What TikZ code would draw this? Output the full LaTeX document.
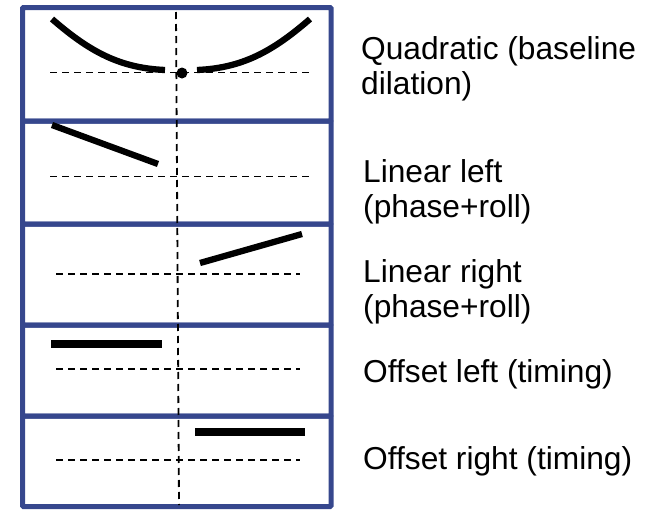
\documentclass[tikz,border=0pt]{standalone}
\usepackage{fontspec}
\setmainfont{Liberation Sans}
\definecolor{boxblue}{RGB}{54,71,141}
\begin{document}
\begin{tikzpicture}[x=1pt,y=-1pt,
  panel/.style={draw=boxblue,line width=5pt,rounded corners=1pt},
  axis/.style={line width=1.8pt,dash pattern=on 7pt off 5pt},
  curve/.style={line width=6.3pt},
  bar/.style={line width=7.5pt},
  label/.style={anchor=base west,align=left,inner sep=0pt,font=\fontsize{31.7}{35}\selectfont}]
\useasboundingbox (0,0) rectangle (648,509);
% panels
\draw[panel] (22.5,7.5) rectangle (331,121);
\draw[panel] (22.5,121) rectangle (331,224);
\draw[panel] (22.5,224) rectangle (331,325);
\draw[panel] (22.5,325) rectangle (331,416);
\draw[panel] (22.5,416) rectangle (331,506.5);
% axes
\coordinate (vt) at (176,12);
\coordinate (vb) at (179,505);
\draw[axis] (vt) -- (vb);
\draw[axis] (50,72.5) -- (310,72.5);
\draw[axis] (50,176.5) -- (310,176.5);
\draw[axis] (56,274) -- (300,274);
\draw[axis] (56,369) -- (300,369);
\draw[axis] (56,460) -- (300,460);
% quadratic
\draw[curve] (52,19) .. controls (90,52) and (120,68) .. (165,70);
\draw[curve] (197,70) .. controls (242,68) and (272,52) .. (310,19);
\fill (182,73) circle (5.5);
% linear
\draw[curve] (52,125) -- (158,164);
\draw[curve] (200,263) -- (302,234);
% offsets
\draw[bar] (51,344) -- (162,344);
\draw[bar] (195,432) -- (305,432);
% labels
\node[label] (l1) at (361,94) {Quadratic (baseline\\dilation)};
\node[label] (l2) at (363,217) {Linear left\\(phase+roll)};
\node[label] (l3) at (363,317) {Linear right\\(phase+roll)};
\node[label] (l4) at (363,382) {Offset left (timing)};
\node[label] (l5) at (363,469) {Offset right (timing)};
\end{tikzpicture}
\end{document}
